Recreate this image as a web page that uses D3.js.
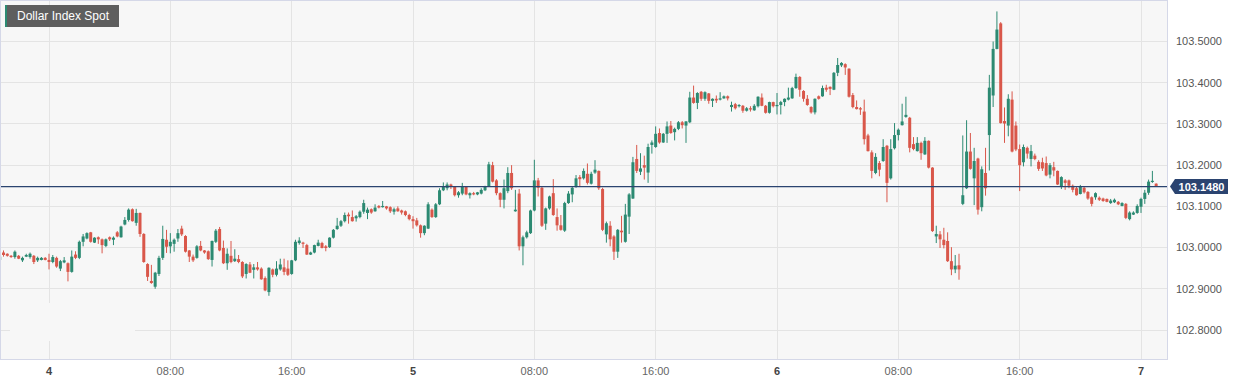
<!DOCTYPE html>
<html>
<head>
<meta charset="utf-8">
<script src="https://cdn.jsdelivr.net/npm/d3@7"></script>
<style>
  body { margin: 0; background: #fff; }
  svg { display: block; font-family: "Liberation Sans", Arial, Helvetica, sans-serif; }
</style>
</head>
<body>
<div id="chart"></div>
<script>
// 15 minute candles, first one starts 20:45 the evening before day 4
const seriesName = 'Dollar Index Spot';
const firstCandle = Date.UTC(2023, 11, 3, 20, 45);
const stepMinutes = 15;
const lastPrice = 103.148;

const opens = [
  102.970, 102.988, 102.985, 102.980, 102.977, 102.980, 102.969, 102.978, 102.977, 102.980,
  102.969, 102.970, 102.975, 102.970, 102.965, 102.975, 102.949, 102.964, 102.962, 102.941,
  102.983, 102.975, 103.014, 103.022, 103.037, 103.012, 103.025, 103.020, 103.004, 103.025,
  103.019, 103.037, 103.025, 103.056, 103.067, 103.093, 103.060, 103.084, 103.033, 102.960,
  102.919, 102.905, 102.936, 102.975, 103.019, 103.003, 103.009, 103.022, 103.046, 103.028,
  102.993, 102.978, 102.975, 103.004, 102.993, 102.991, 102.970, 103.014, 103.045, 102.999,
  102.962, 102.980, 102.967, 102.972, 102.965, 102.936, 102.959, 102.946, 102.952, 102.949,
  102.926, 102.892, 102.947, 102.934, 102.947, 102.952, 102.949, 102.936, 102.969, 103.011,
  103.012, 103.006, 102.983, 102.988, 103.004, 103.011, 103.003, 103.001, 103.024, 103.045,
  103.053, 103.064, 103.080, 103.074, 103.071, 103.074, 103.087, 103.084, 103.093, 103.088,
  103.101, 103.098, 103.100, 103.098, 103.087, 103.095, 103.090, 103.088, 103.079, 103.069,
  103.066, 103.054, 103.035, 103.046, 103.092, 103.074, 103.105, 103.139, 103.144, 103.153,
  103.147, 103.127, 103.131, 103.147, 103.127, 103.132, 103.129, 103.131, 103.139, 103.148,
  103.200, 103.163, 103.132, 103.116, 103.137, 103.181, 103.088, 103.131, 103.003, 103.025,
  103.035, 103.090, 103.163, 103.145, 103.058, 103.095, 103.132, 103.074, 103.054, 103.041,
  103.108, 103.129, 103.147, 103.171, 103.168, 103.179, 103.155, 103.182, 103.186, 103.142,
  103.032, 103.053, 103.027, 102.990, 103.041, 103.014, 103.075, 103.119, 103.215, 103.184,
  103.200, 103.182, 103.249, 103.244, 103.278, 103.255, 103.276, 103.296, 103.280, 103.288,
  103.304, 103.296, 103.304, 103.364, 103.351, 103.378, 103.361, 103.374, 103.356, 103.361,
  103.359, 103.362, 103.367, 103.341, 103.348, 103.343, 103.344, 103.332, 103.338, 103.333,
  103.343, 103.364, 103.344, 103.327, 103.353, 103.343, 103.346, 103.353, 103.359, 103.362,
  103.387, 103.414, 103.380, 103.361, 103.341, 103.328, 103.367, 103.367, 103.388, 103.390,
  103.383, 103.424, 103.442, 103.445, 103.434, 103.370, 103.341, 103.338, 103.330, 103.272,
  103.231, 103.181, 103.205, 103.210, 103.247, 103.168, 103.241, 103.273, 103.297, 103.317,
  103.315, 103.251, 103.234, 103.254, 103.226, 103.259, 103.194, 103.027, 103.032, 103.019,
  103.016, 102.967, 102.947, 102.957, 103.106, 103.144, 103.233, 103.168, 103.216, 103.098,
  103.181, 103.273, 103.369, 103.482, 103.544, 103.307, 103.296, 103.359, 103.296, 103.239,
  103.207, 103.242, 103.215, 103.223, 103.208, 103.207, 103.205, 103.177, 103.195, 103.186,
  103.148, 103.163, 103.163, 103.150, 103.144, 103.130, 103.145, 103.135, 103.122, 103.122,
  103.121, 103.119, 103.118, 103.108, 103.110, 103.111, 103.101, 103.106, 103.069, 103.080,
  103.084, 103.099, 103.118, 103.133, 103.160, 103.155
];

const highs = [
  102.982, 102.993, 102.986, 102.982, 102.993, 102.982, 102.978, 102.985, 102.988, 102.982,
  102.978, 102.977, 102.977, 102.985, 102.982, 102.978, 102.970, 102.977, 102.964, 102.993,
  102.991, 103.017, 103.033, 103.037, 103.038, 103.025, 103.027, 103.022, 103.022, 103.027,
  103.027, 103.040, 103.053, 103.074, 103.095, 103.095, 103.094, 103.085, 103.035, 102.962,
  102.958, 102.941, 102.980, 103.053, 103.043, 103.035, 103.022, 103.045, 103.053, 103.030,
  102.994, 102.983, 103.006, 103.016, 102.994, 102.993, 103.017, 103.045, 103.050, 103.017,
  102.998, 103.016, 102.996, 102.982, 102.967, 102.962, 102.965, 102.960, 102.965, 102.952,
  102.930, 102.952, 102.949, 102.967, 102.973, 102.973, 102.969, 102.970, 103.019, 103.025,
  103.014, 103.009, 102.990, 103.007, 103.019, 103.014, 103.006, 103.025, 103.045, 103.072,
  103.067, 103.085, 103.085, 103.090, 103.079, 103.090, 103.116, 103.097, 103.095, 103.105,
  103.103, 103.113, 103.101, 103.100, 103.097, 103.100, 103.092, 103.090, 103.082, 103.076,
  103.072, 103.056, 103.054, 103.110, 103.095, 103.108, 103.144, 103.158, 103.158, 103.155,
  103.148, 103.137, 103.157, 103.148, 103.134, 103.135, 103.135, 103.144, 103.150, 103.208,
  103.208, 103.166, 103.134, 103.165, 103.195, 103.200, 103.140, 103.142, 103.029, 103.041,
  103.092, 103.213, 103.169, 103.147, 103.097, 103.126, 103.166, 103.095, 103.079, 103.111,
  103.137, 103.148, 103.176, 103.176, 103.192, 103.204, 103.184, 103.212, 103.187, 103.145,
  103.063, 103.064, 103.030, 103.045, 103.077, 103.106, 103.132, 103.220, 103.249, 103.229,
  103.223, 103.252, 103.260, 103.294, 103.289, 103.278, 103.306, 103.307, 103.291, 103.307,
  103.307, 103.307, 103.378, 103.393, 103.377, 103.380, 103.379, 103.375, 103.362, 103.369,
  103.377, 103.369, 103.369, 103.354, 103.351, 103.348, 103.346, 103.341, 103.343, 103.348,
  103.367, 103.374, 103.346, 103.354, 103.354, 103.375, 103.356, 103.362, 103.388, 103.390,
  103.422, 103.416, 103.382, 103.370, 103.343, 103.362, 103.369, 103.393, 103.395, 103.391,
  103.426, 103.460, 103.450, 103.447, 103.435, 103.375, 103.357, 103.341, 103.359, 103.276,
  103.236, 103.229, 103.210, 103.263, 103.249, 103.263, 103.302, 103.289, 103.349, 103.366,
  103.317, 103.268, 103.268, 103.257, 103.268, 103.260, 103.195, 103.053, 103.040, 103.048,
  103.037, 103.001, 102.982, 102.985, 103.272, 103.309, 103.278, 103.242, 103.218, 103.197,
  103.242, 103.419, 103.500, 103.573, 103.547, 103.340, 103.372, 103.379, 103.306, 103.250,
  103.250, 103.245, 103.249, 103.228, 103.212, 103.218, 103.221, 103.205, 103.208, 103.187,
  103.173, 103.166, 103.165, 103.153, 103.148, 103.152, 103.148, 103.137, 103.124, 103.134,
  103.124, 103.121, 103.119, 103.118, 103.119, 103.113, 103.110, 103.108, 103.088, 103.088,
  103.105, 103.121, 103.140, 103.165, 103.186, 103.156
];

const lows = [
  102.969, 102.978, 102.978, 102.975, 102.973, 102.972, 102.965, 102.977, 102.973, 102.960,
  102.965, 102.969, 102.969, 102.947, 102.962, 102.951, 102.943, 102.962, 102.918, 102.939,
  102.972, 102.972, 103.003, 103.020, 103.012, 103.011, 103.009, 102.986, 103.001, 103.016,
  103.006, 103.025, 103.024, 103.054, 103.063, 103.063, 103.053, 103.026, 102.963, 102.919,
  102.912, 102.900, 102.931, 102.970, 102.987, 102.986, 102.990, 103.014, 103.028, 102.988,
  102.965, 102.965, 102.973, 102.991, 102.985, 102.970, 102.954, 103.011, 102.991, 102.960,
  102.946, 102.962, 102.965, 102.962, 102.926, 102.925, 102.938, 102.925, 102.944, 102.922,
  102.894, 102.883, 102.928, 102.930, 102.944, 102.933, 102.931, 102.934, 102.967, 103.007,
  102.999, 102.982, 102.982, 102.986, 103.003, 102.998, 102.991, 102.999, 103.022, 103.043,
  103.050, 103.061, 103.058, 103.063, 103.063, 103.071, 103.082, 103.069, 103.082, 103.087,
  103.095, 103.097, 103.092, 103.084, 103.080, 103.087, 103.080, 103.076, 103.066, 103.046,
  103.051, 103.024, 103.030, 103.045, 103.072, 103.072, 103.103, 103.137, 103.139, 103.142,
  103.124, 103.121, 103.127, 103.127, 103.119, 103.127, 103.127, 103.129, 103.137, 103.147,
  103.158, 103.127, 103.098, 103.095, 103.132, 103.140, 103.087, 102.993, 102.957, 103.022,
  103.033, 103.088, 103.124, 103.050, 103.043, 103.092, 103.077, 103.041, 103.041, 103.038,
  103.106, 103.110, 103.145, 103.147, 103.165, 103.153, 103.153, 103.179, 103.140, 103.040,
  103.012, 103.003, 102.970, 102.975, 103.012, 103.012, 103.033, 103.118, 103.181, 103.176,
  103.165, 103.157, 103.228, 103.242, 103.252, 103.254, 103.254, 103.276, 103.260, 103.285,
  103.289, 103.254, 103.302, 103.349, 103.336, 103.356, 103.356, 103.349, 103.341, 103.351,
  103.357, 103.361, 103.357, 103.330, 103.335, 103.340, 103.327, 103.330, 103.330, 103.332,
  103.340, 103.343, 103.325, 103.325, 103.340, 103.323, 103.323, 103.343, 103.357, 103.361,
  103.385, 103.366, 103.354, 103.344, 103.325, 103.323, 103.359, 103.366, 103.378, 103.370,
  103.382, 103.416, 103.438, 103.419, 103.364, 103.338, 103.335, 103.322, 103.250, 103.233,
  103.168, 103.178, 103.173, 103.208, 103.110, 103.165, 103.238, 103.260, 103.296, 103.315,
  103.231, 103.236, 103.233, 103.213, 103.225, 103.192, 103.038, 103.011, 102.999, 102.998,
  102.965, 102.933, 102.938, 102.922, 103.103, 103.142, 103.189, 103.103, 103.080, 103.088,
  103.126, 103.187, 103.341, 103.481, 103.301, 103.254, 103.270, 103.231, 103.234, 103.137,
  103.197, 103.216, 103.197, 103.212, 103.186, 103.186, 103.173, 103.168, 103.173, 103.152,
  103.142, 103.140, 103.144, 103.134, 103.126, 103.129, 103.131, 103.116, 103.100, 103.116,
  103.113, 103.111, 103.110, 103.106, 103.108, 103.103, 103.100, 103.069, 103.066, 103.079,
  103.082, 103.084, 103.106, 103.128, 103.157, 103.148
];

const closes = [
  102.978, 102.982, 102.980, 102.977, 102.990, 102.973, 102.975, 102.982, 102.985, 102.965,
  102.975, 102.975, 102.970, 102.965, 102.977, 102.954, 102.967, 102.969, 102.941, 102.978,
  102.975, 103.014, 103.027, 103.035, 103.014, 103.024, 103.020, 103.006, 103.020, 103.020,
  103.024, 103.027, 103.051, 103.067, 103.092, 103.064, 103.084, 103.033, 102.965, 102.929,
  102.914, 102.939, 102.975, 103.021, 103.002, 103.014, 103.019, 103.035, 103.032, 102.990,
  102.978, 102.969, 103.003, 102.993, 102.988, 102.972, 103.016, 103.041, 102.993, 102.962,
  102.985, 102.965, 102.973, 102.965, 102.930, 102.960, 102.939, 102.952, 102.947, 102.923,
  102.896, 102.951, 102.934, 102.949, 102.959, 102.941, 102.934, 102.969, 103.014, 103.017,
  103.011, 102.983, 102.988, 103.006, 103.012, 102.999, 102.999, 103.024, 103.043, 103.053,
  103.064, 103.079, 103.076, 103.064, 103.076, 103.087, 103.108, 103.092, 103.085, 103.097,
  103.097, 103.101, 103.095, 103.088, 103.093, 103.088, 103.085, 103.079, 103.069, 103.064,
  103.054, 103.035, 103.053, 103.105, 103.074, 103.105, 103.139, 103.148, 103.153, 103.148,
  103.127, 103.134, 103.147, 103.129, 103.132, 103.129, 103.134, 103.140, 103.148, 103.202,
  103.160, 103.132, 103.116, 103.144, 103.181, 103.144, 103.092, 103.003, 103.025, 103.037,
  103.090, 103.163, 103.145, 103.053, 103.095, 103.124, 103.079, 103.054, 103.043, 103.108,
  103.131, 103.145, 103.168, 103.166, 103.186, 103.157, 103.179, 103.189, 103.144, 103.043,
  103.059, 103.020, 102.990, 103.043, 103.037, 103.080, 103.129, 103.207, 103.186, 103.192,
  103.194, 103.244, 103.255, 103.276, 103.255, 103.276, 103.294, 103.278, 103.288, 103.304,
  103.297, 103.306, 103.364, 103.351, 103.375, 103.361, 103.377, 103.356, 103.361, 103.357,
  103.362, 103.367, 103.362, 103.346, 103.338, 103.346, 103.332, 103.338, 103.335, 103.344,
  103.366, 103.344, 103.327, 103.353, 103.343, 103.346, 103.353, 103.361, 103.364, 103.387,
  103.414, 103.383, 103.361, 103.346, 103.328, 103.361, 103.361, 103.387, 103.383, 103.385,
  103.424, 103.443, 103.448, 103.437, 103.366, 103.341, 103.336, 103.335, 103.263, 103.234,
  103.186, 103.220, 103.189, 103.244, 103.157, 103.239, 103.273, 103.286, 103.306, 103.322,
  103.242, 103.239, 103.254, 103.229, 103.259, 103.194, 103.040, 103.033, 103.020, 103.006,
  102.967, 102.947, 102.956, 102.947, 103.127, 103.233, 103.191, 103.210, 103.092, 103.190,
  103.144, 103.388, 103.482, 103.529, 103.302, 103.301, 103.361, 103.233, 103.238, 103.200,
  103.244, 103.228, 103.234, 103.215, 103.191, 103.192, 103.175, 103.200, 103.187, 103.153,
  103.171, 103.157, 103.150, 103.140, 103.127, 103.148, 103.134, 103.119, 103.106, 103.132,
  103.116, 103.113, 103.111, 103.114, 103.116, 103.105, 103.108, 103.072, 103.085, 103.085,
  103.101, 103.118, 103.133, 103.160, 103.162, 103.148
];

const priceTicks = [102.8, 102.9, 103.0, 103.1, 103.2, 103.3, 103.4, 103.5];
const timeTicks = [0, 8, 16, 24, 32, 40, 48, 56, 64, 72].map(h => Date.UTC(2023, 11, 4, h));

const width = 1244, height = 385;
const plot = { left: 1, right: 1167, top: 1, bottom: 359 };
const up = '#2c8a72', down = '#d9574a';

const candles = opens.map((o, i) => ({
  t: new Date(firstCandle + i * stepMinutes * 60000),
  o, h: highs[i], l: lows[i], c: closes[i]
}));

const x = d3.scaleUtc()
  .domain([new Date(Date.UTC(2023, 11, 4)), new Date(Date.UTC(2023, 11, 7))])
  .range([49, 1141]);
const y = d3.scaleLinear().domain([102.8, 103.5]).range([330, 41.5]);

const svg = d3.select('#chart').append('svg').attr('width', width).attr('height', height);

svg.append('defs').append('clipPath').attr('id', 'clip')
  .append('rect')
  .attr('x', plot.left).attr('y', plot.top)
  .attr('width', plot.right - plot.left).attr('height', plot.bottom - plot.top);

svg.append('rect')
  .attr('x', plot.left - 0.5).attr('y', plot.top - 0.5)
  .attr('width', plot.right - plot.left + 1).attr('height', plot.bottom - plot.top + 1)
  .attr('fill', '#f7f7f7');

// grid
const grid = svg.append('g').attr('stroke', '#e4e4e4').attr('stroke-width', 1);
grid.selectAll('line.h').data(priceTicks).enter().append('line')
  .attr('x1', plot.left).attr('x2', plot.right)
  .attr('y1', d => Math.floor(y(d)) + 0.5).attr('y2', d => Math.floor(y(d)) + 0.5);
grid.selectAll('line.v').data(timeTicks).enter().append('line')
  .attr('x1', d => Math.floor(x(d)) + 0.5).attr('x2', d => Math.floor(x(d)) + 0.5)
  .attr('y1', plot.top).attr('y2', plot.bottom);

// empty legend box that hides a bit of the grid bottom left
svg.append('rect').attr('x', 10).attr('y', 303).attr('width', 125).attr('height', 38)
  .attr('fill', '#f7f7f7');

// candles
const g = svg.append('g').attr('clip-path', 'url(#clip)');
const bw = 3;
g.selectAll('line.wick').data(candles).enter().append('line')
  .attr('x1', d => x(d.t)).attr('x2', d => x(d.t))
  .attr('y1', d => y(d.h)).attr('y2', d => y(d.l))
  .attr('stroke', d => d.c >= d.o ? up : down)
  .attr('stroke-width', 1);
g.selectAll('rect.body').data(candles).enter().append('rect')
  .attr('x', d => x(d.t) - bw / 2)
  .attr('y', d => y(Math.max(d.o, d.c)))
  .attr('width', bw)
  .attr('height', d => Math.max(1.2, Math.abs(y(d.o) - y(d.c))))
  .attr('fill', d => d.c >= d.o ? up : down);

// last price line
const py = y(lastPrice);
svg.append('line')
  .attr('x1', plot.left).attr('x2', plot.right)
  .attr('y1', py).attr('y2', py)
  .attr('stroke', '#2b4470').attr('stroke-width', 1.3);

// frame
svg.append('rect')
  .attr('x', plot.left - 0.5).attr('y', plot.top - 0.5)
  .attr('width', plot.right - plot.left + 1).attr('height', plot.bottom - plot.top + 1)
  .attr('fill', 'none').attr('stroke', '#d5d8e8');

// price axis
svg.append('g').selectAll('text').data(priceTicks).enter().append('text')
  .attr('x', 1176).attr('y', d => y(d))
  .attr('dy', '0.35em')
  .attr('font-size', 11).attr('fill', '#555')
  .text(d => d.toFixed(4));

svg.append('path')
  .attr('d', `M1170,${py} L1175,${py - 7.5} L1228,${py - 7.5} L1228,${py + 7.5} L1175,${py + 7.5} Z`)
  .attr('fill', '#2b4470');
svg.append('text')
  .attr('x', 1201.5).attr('y', py).attr('dy', '0.36em')
  .attr('text-anchor', 'middle')
  .attr('font-size', 11).attr('font-weight', 'bold').attr('fill', '#fff')
  .text(lastPrice.toFixed(4));

// time axis
const dayFmt = d3.utcFormat('%-d'), hourFmt = d3.utcFormat('%H:%M');
svg.append('g').selectAll('text').data(timeTicks).enter().append('text')
  .attr('x', d => x(d)).attr('y', 371).attr('dy', '0.35em')
  .attr('text-anchor', 'middle')
  .attr('font-size', 11)
  .attr('font-weight', d => new Date(d).getUTCHours() === 0 ? 'bold' : 'normal')
  .attr('fill', d => new Date(d).getUTCHours() === 0 ? '#444' : '#666')
  .text(d => new Date(d).getUTCHours() === 0 ? dayFmt(new Date(d)) : hourFmt(new Date(d)));

// title tag
const tag = svg.append('g');
tag.append('rect').attr('x', 5).attr('y', 5).attr('width', 114).attr('height', 22)
  .attr('fill', '#5e5e5e');
tag.append('rect').attr('x', 5).attr('y', 5).attr('width', 2).attr('height', 22)
  .attr('fill', '#2c8a72');
tag.append('text').attr('x', 17).attr('y', 16).attr('dy', '0.35em')
  .attr('font-size', 12).attr('fill', '#fff')
  .text(seriesName);
</script>
</body>
</html>
